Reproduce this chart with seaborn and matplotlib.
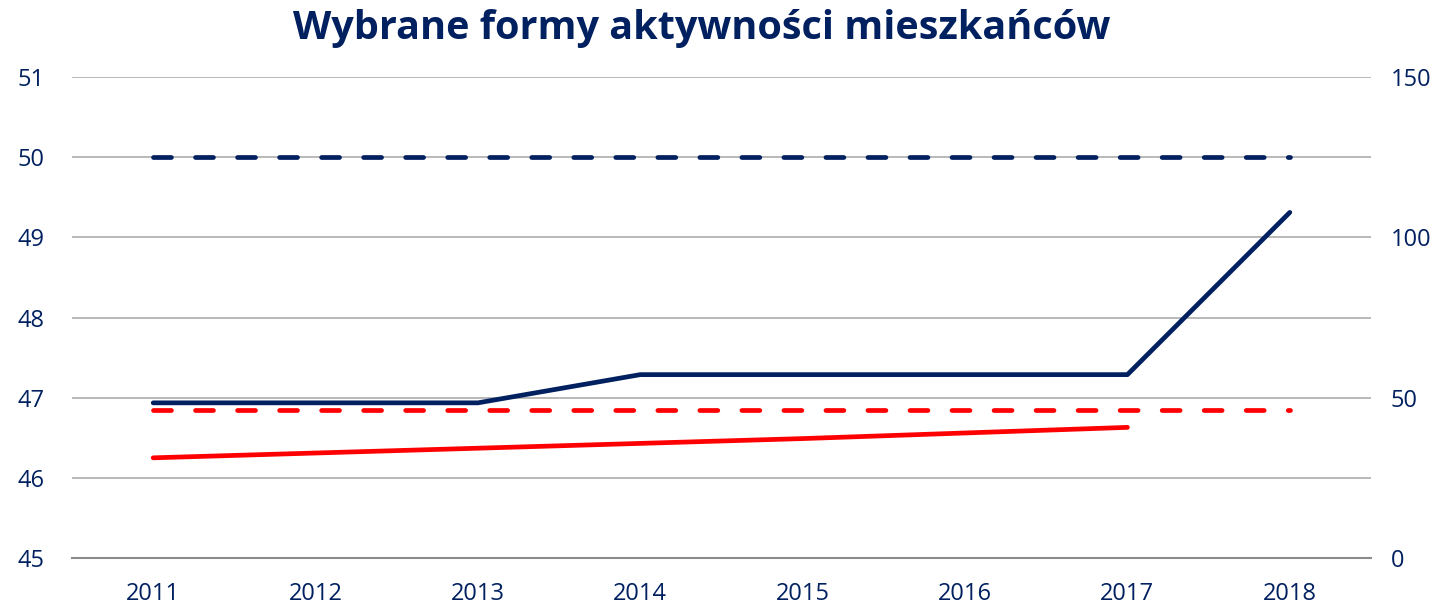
import matplotlib
matplotlib.use("Agg")
import matplotlib.pyplot as plt
import seaborn as sns
import pandas as pd

years = ["2011", "2012", "2013", "2014", "2015", "2016", "2017", "2018"]
navy_solid = [48.4, 48.4, 48.4, 57.2, 57.2, 57.2, 57.2, 107.8]   # right axis
navy_dashed = [50, 50, 50, 50, 50, 50, 50, 50]                    # left axis
red_solid = [46.25, 46.31, 46.37, 46.43, 46.49, 46.56, 46.63, None]  # left axis
red_dashed = [46.85, 46.85, 46.85, 46.85, 46.85, 46.85, 46.85, 46.85]  # left axis
left_ticks = [45, 46, 47, 48, 49, 50, 51]
right_ticks = [0, 50, 100, 150]

NAVY = "#002060"
RED = "#FF0000"

sns.set_style("white")
plt.rcParams["font.family"] = ["Open Sans", "DejaVu Sans"]

df = pd.DataFrame({
    "year": years,
    "navy_solid": navy_solid,
    "navy_dashed": navy_dashed,
    "red_solid": red_solid,
    "red_dashed": red_dashed,
})

fig = plt.figure(figsize=(14.43, 6.07), dpi=100)
ax = fig.add_axes([0.0499, 0.0807, 0.9002, 0.7923])
ax2 = ax.twinx()

LW = 3.4
dash = dict(dashes=(3.8, 5.1), dash_capstyle="round", solid_capstyle="round")
sns.lineplot(data=df, x="year", y="navy_dashed", ax=ax, color=NAVY, lw=LW, **dash)
sns.lineplot(data=df, x="year", y="red_dashed", ax=ax, color=RED, lw=LW, **dash)
sns.lineplot(data=df.dropna(), x="year", y="red_solid", ax=ax, color=RED, lw=LW,
             solid_capstyle="round")
sns.lineplot(data=df, x="year", y="navy_solid", ax=ax2, color=NAVY, lw=LW,
             solid_capstyle="round")

ax.set_xlim(-0.5, len(years) - 0.5)
ax.set_ylim(45, 51)
ax.set_yticks(left_ticks)
ax2.set_ylim(0, 150)
ax2.set_yticks(right_ticks)

ax.grid(axis="y", color="#A6A6A6", lw=1.1)
ax.set_axisbelow(True)
for a in (ax, ax2):
    for s in a.spines.values():
        s.set_visible(False)
    a.set_xlabel("")
    a.set_ylabel("")
    a.tick_params(length=0, labelsize=17, colors=NAVY)
ax.spines["bottom"].set_visible(True)
ax.spines["bottom"].set_color("#8C8C8C")
ax.spines["bottom"].set_linewidth(1.5)
ax.tick_params(axis="x", pad=17)
ax.tick_params(axis="y", pad=19.5)
ax2.tick_params(axis="y", pad=14)

fig.suptitle("Wybrane formy aktywności mieszkańców", x=0.4865, y=0.985,
             fontsize=28.5, fontweight="bold", color=NAVY)

fig.savefig("out.png", dpi=100)
